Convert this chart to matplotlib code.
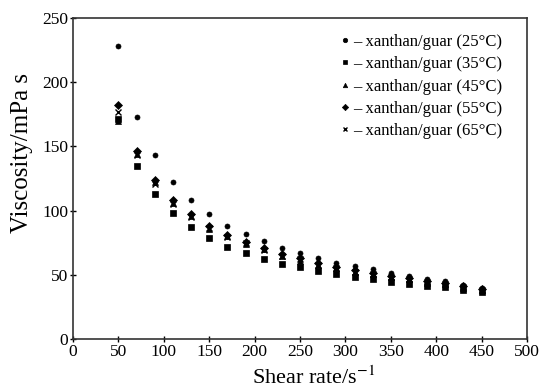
import matplotlib.pyplot as plt

plt.rcParams['font.family'] = ['Liberation Serif', 'DejaVu Serif']
plt.rcParams['mathtext.fontset'] = 'stix'

# Shear rate steps (s^-1)
shear_rate = [50, 70, 90, 110, 130, 150, 170, 190, 210, 230, 250,
              270, 290, 310, 330, 350, 370, 390, 410, 430, 450]

# Apparent viscosity (mPa s) at each temperature
visc_25 = [228, 173, 143, 122, 108, 97.5, 88, 81.8, 76, 71, 67,
           63, 59.4, 56.8, 54.5, 51.6, 49, 46.7, 45, 42, 40]
visc_35 = [171, 135, 113, 98, 87.5, 79, 72, 67, 62, 58.4, 56,
           53, 50.6, 48, 46.7, 44.6, 42.8, 41.3, 40.5, 38, 37]
visc_45 = [170, 144, 122, 106, 96, 86, 80, 74, 70, 65, 61,
           58, 55, 52.5, 50.5, 48, 46.5, 44, 42.5, 40, 38.5]
visc_55 = [182, 146, 124, 108, 97.5, 88, 81, 75.8, 71, 66, 63,
           59, 56, 53.7, 51.6, 49.5, 47.5, 45.5, 43.5, 41, 39]
visc_65 = [177, 143, 121, 105, 95, 86.5, 79.5, 74.5, 69.5, 65, 62,
           58, 55, 52.5, 50.5, 48.5, 46.5, 44.5, 42.5, 40.5, 38.5]

series = [
    (visc_25, 'o', 3.6, '25'),
    (visc_35, 's', 4.0, '35'),
    (visc_45, '^', 4.0, '45'),
    (visc_55, 'D', 3.6, '55'),
    (visc_65, 'x', 3.8, '65'),
]

fig = plt.figure(figsize=(5.45, 3.88), dpi=100)
ax = fig.add_axes([0.134, 0.126, 0.833, 0.828])

for vals, mk, ms, temp in series:
    ax.plot(shear_rate, vals, linestyle='none', marker=mk, markersize=ms,
            color='black', markeredgewidth=1.0 if mk == 'x' else 0.5,
            label='\u2013 xanthan/guar (%s\u00b0C)' % temp)

ax.set_xlim(0, 500)
ax.set_ylim(0, 250)
ax.set_xticks(range(0, 501, 50))
ax.set_yticks(range(0, 251, 50))
ax.tick_params(direction='inout', length=5, width=1, labelsize=12.5,
               top=False, right=False, pad=1)
for s in ax.spines.values():
    s.set_linewidth(1.2)
    s.set_color('#333333')

ax.set_xlabel('Shear rate/s$^{-1}$', fontsize=16)
ax.set_ylabel('Viscosity/mPa s', fontsize=18)
ax.xaxis.set_label_coords(0.53, -0.085)
ax.yaxis.set_label_coords(-0.088, 0.58)

leg = ax.legend(loc='upper right', frameon=False, fontsize=12, handlelength=0.6,
                handletextpad=0.15, labelspacing=0.38, borderaxespad=0,
                borderpad=0, bbox_to_anchor=(0.945, 0.95))
for h in leg.legend_handles:
    h.set_markersize(3.2)

fig.savefig('out.png', dpi=100)
